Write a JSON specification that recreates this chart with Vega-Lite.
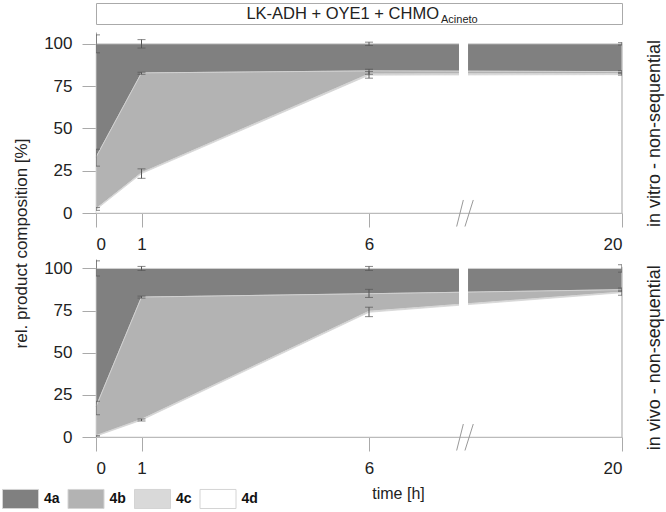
{
  "$schema": "https://vega.github.io/schema/vega-lite/v6.json",
  "padding": {"left": 2, "top": 2, "right": 2, "bottom": 2},
  "config": {
    "font": "Liberation Sans",
    "view": {"stroke": null},
    "axis": {"domainColor": "#aaaaaa", "tickColor": "#aaaaaa", "labelColor": "#222222", "titleColor": "#222222", "grid": false, "tickSize": 14, "labelFontSize": 17, "labelFontWeight": "normal", "titleFontWeight": "normal", "zindex": 1}
  },
  "datasets": {
    "comp": [
      {"condition": "in vitro", "time": 0, "compound": "4a", "value": 67},
      {"condition": "in vitro", "time": 0, "compound": "4b", "value": 30.5},
      {"condition": "in vitro", "time": 0, "compound": "4c", "value": 0.5},
      {"condition": "in vitro", "time": 0, "compound": "4d", "value": 2},
      {"condition": "in vitro", "time": 1, "compound": "4a", "value": 17.2},
      {"condition": "in vitro", "time": 1, "compound": "4b", "value": 59},
      {"condition": "in vitro", "time": 1, "compound": "4c", "value": 0.5},
      {"condition": "in vitro", "time": 1, "compound": "4d", "value": 23.3},
      {"condition": "in vitro", "time": 6, "compound": "4a", "value": 16},
      {"condition": "in vitro", "time": 6, "compound": "4b", "value": 1.8},
      {"condition": "in vitro", "time": 6, "compound": "4c", "value": 0.7},
      {"condition": "in vitro", "time": 6, "compound": "4d", "value": 81.5},
      {"condition": "in vitro", "time": 20, "compound": "4a", "value": 16.4},
      {"condition": "in vitro", "time": 20, "compound": "4b", "value": 1.2},
      {"condition": "in vitro", "time": 20, "compound": "4c", "value": 0.6},
      {"condition": "in vitro", "time": 20, "compound": "4d", "value": 81.8},
      {"condition": "in vivo", "time": 0, "compound": "4a", "value": 82},
      {"condition": "in vivo", "time": 0, "compound": "4b", "value": 17.2},
      {"condition": "in vivo", "time": 0, "compound": "4c", "value": 0.3},
      {"condition": "in vivo", "time": 0, "compound": "4d", "value": 0.5},
      {"condition": "in vivo", "time": 1, "compound": "4a", "value": 17},
      {"condition": "in vivo", "time": 1, "compound": "4b", "value": 72.5},
      {"condition": "in vivo", "time": 1, "compound": "4c", "value": 0.5},
      {"condition": "in vivo", "time": 1, "compound": "4d", "value": 10},
      {"condition": "in vivo", "time": 6, "compound": "4a", "value": 15},
      {"condition": "in vivo", "time": 6, "compound": "4b", "value": 10.4},
      {"condition": "in vivo", "time": 6, "compound": "4c", "value": 0.6},
      {"condition": "in vivo", "time": 6, "compound": "4d", "value": 74},
      {"condition": "in vivo", "time": 20, "compound": "4a", "value": 12.6},
      {"condition": "in vivo", "time": 20, "compound": "4b", "value": 1.4},
      {"condition": "in vivo", "time": 20, "compound": "4c", "value": 0.4},
      {"condition": "in vivo", "time": 20, "compound": "4d", "value": 85.6}
    ],
    "err": [
      {"condition": "in vitro", "time": 0, "pos": 100, "err": 5.3},
      {"condition": "in vitro", "time": 0, "pos": 32.7, "err": 5},
      {"condition": "in vitro", "time": 0, "pos": 2.4, "err": 0.8},
      {"condition": "in vitro", "time": 1, "pos": 100, "err": 2.5},
      {"condition": "in vitro", "time": 1, "pos": 82.6, "err": 0.6},
      {"condition": "in vitro", "time": 1, "pos": 23.3, "err": 2.8},
      {"condition": "in vitro", "time": 6, "pos": 100, "err": 1},
      {"condition": "in vitro", "time": 6, "pos": 83.5, "err": 1.5},
      {"condition": "in vitro", "time": 6, "pos": 81.7, "err": 2},
      {"condition": "in vitro", "time": 20, "pos": 100, "err": 0.7},
      {"condition": "in vitro", "time": 20, "pos": 83.6, "err": 0.5},
      {"condition": "in vitro", "time": 20, "pos": 82, "err": 0.5},
      {"condition": "in vivo", "time": 0, "pos": 100, "err": 4.5},
      {"condition": "in vivo", "time": 0, "pos": 17.2, "err": 4},
      {"condition": "in vivo", "time": 0, "pos": 0.4, "err": 0.4},
      {"condition": "in vivo", "time": 1, "pos": 100, "err": 1.2},
      {"condition": "in vivo", "time": 1, "pos": 83, "err": 0.6},
      {"condition": "in vivo", "time": 1, "pos": 10.1, "err": 0.6},
      {"condition": "in vivo", "time": 6, "pos": 100, "err": 1.2},
      {"condition": "in vivo", "time": 6, "pos": 85.2, "err": 2.4},
      {"condition": "in vivo", "time": 6, "pos": 74.2, "err": 2.8},
      {"condition": "in vivo", "time": 20, "pos": 100, "err": 2.2},
      {"condition": "in vivo", "time": 20, "pos": 87.4, "err": 1},
      {"condition": "in vivo", "time": 20, "pos": 85.6, "err": 1.5}
    ]
  },
  "spacing": 8,
  "bounds": "flush",
  "vconcat": [
    {
      "width": 526,
      "height": 21,
      "view": {"stroke": "#aaaaaa", "strokeWidth": 1},
      "data": {"values": [{"t": "LK-ADH + OYE1 + CHMO", "s": "Acineto"}]},
      "layer": [
        {"mark": {"type": "text", "align": "right", "baseline": "middle", "dx": 80, "fontSize": 16.5, "color": "#222222"}, "encoding": {"text": {"field": "t"}}},
        {"mark": {"type": "text", "align": "left", "baseline": "middle", "dx": 82, "dy": 6, "fontSize": 11, "color": "#222222"}, "encoding": {"text": {"field": "s"}}}
      ]
    },
    {
      "spacing": 46,
      "bounds": "flush",
      "vconcat": [
        {
          "width": 526,
          "height": 181,
          "layer": [
            {
              "data": {"name": "comp"},
              "transform": [{"filter": "datum.condition === 'in vitro'"}],
              "mark": {"type": "area", "stroke": "#d4d4d4", "strokeWidth": 0.8, "opacity": 1},
              "encoding": {
                "x": {"field": "time", "type": "quantitative", "scale": {"domain": [0, 6, 20], "range": [0, 273, 526], "nice": false, "zero": false}, "axis": {"values": [0, 1, 6, 20], "title": null, "labelPadding": 9}},
                "y": {"field": "value", "type": "quantitative", "stack": "zero", "title": "rel. product composition [%]", "scale": {"domain": [0, 107], "nice": false}, "axis": {"values": [0, 25, 50, 75, 100], "labelPadding": 10, "title": "rel. product composition [%]", "titleFontSize": 17, "titleX": -66, "titleY": 211, "titleBaseline": "bottom"}},
                "fill": {"field": "compound", "type": "nominal", "scale": {"domain": ["4a", "4b", "4c", "4d"], "range": ["#808080", "#b3b3b3", "#d9d9d9", "#ffffff"]},
                  "legend": {"orient": "none", "legendX": -94, "legendY": 477, "direction": "horizontal", "title": null, "symbolType": "M-1,-0.53H1V0.53H-1Z", "symbolSize": 1296, "symbolStrokeColor": "#888888", "symbolStrokeWidth": 1, "symbolOpacity": 1, "labelFontSize": 14, "labelFontWeight": "bold", "labelColor": "#111111", "labelOffset": 5, "columnPadding": 5.5}},
                "order": {"field": "compound", "sort": "descending"}
              }
            },
            {
              "data": {"values": [{}]},
              "mark": {"type": "rect", "fill": "white"},
              "encoding": {"x": {"datum": 10.98}, "x2": {"datum": 11.48}, "y": {"datum": 1}, "y2": {"datum": 101}}
            },
            {
              "data": {"values": [{}]},
              "mark": {"type": "rule", "color": "#b5b5b5"},
              "encoding": {"x": {"datum": 20}, "y": {"datum": 0}, "y2": {"datum": 101}}
            },
            {
              "data": {"name": "err"},
              "transform": [{"filter": "datum.condition === 'in vitro'"}],
              "mark": {"type": "errorbar", "ticks": {"size": 8, "color": "#555555"}, "rule": {"color": "#555555"}, "clip": true},
              "encoding": {"x": {"field": "time", "type": "quantitative"}, "y": {"field": "pos", "type": "quantitative", "title": "rel. product composition [%]"}, "yError": {"field": "err"}}
            },
            {
              "data": {"values": [{}]},
              "mark": {"type": "rule", "color": "#999999", "clip": false},
              "encoding": {"x": {"datum": 10.85}, "x2": {"datum": 11.22}, "y": {"datum": -8}, "y2": {"datum": 7.7}}
            },
            {
              "data": {"values": [{}]},
              "mark": {"type": "rule", "color": "#999999", "clip": false},
              "encoding": {"x": {"datum": 11.31}, "x2": {"datum": 11.77}, "y": {"datum": -8}, "y2": {"datum": 7.7}}
            },
            {
              "data": {"values": [{"label": "in vitro - non-sequential"}]},
              "mark": {"type": "text", "angle": 270, "align": "center", "baseline": "middle", "dy": 33, "fontSize": 18, "color": "#222222", "clip": false},
              "encoding": {"x": {"datum": 20}, "y": {"datum": 47}, "text": {"field": "label"}}
            }
          ]
        },
        {
          "width": 526,
          "height": 178,
          "layer": [
            {
              "data": {"name": "comp"},
              "transform": [{"filter": "datum.condition === 'in vivo'"}],
              "mark": {"type": "area", "stroke": "#d4d4d4", "strokeWidth": 0.8, "opacity": 1},
              "encoding": {
                "x": {"field": "time", "type": "quantitative", "scale": {"domain": [0, 6, 20], "range": [0, 273, 526], "nice": false, "zero": false}, "axis": {"values": [0, 1, 6, 20], "title": "time [h]", "titleFontSize": 16, "titleX": 302, "titleY": 48, "titleBaseline": "top", "labelPadding": 9}},
                "y": {"field": "value", "type": "quantitative", "stack": "zero", "scale": {"domain": [0, 105.6], "nice": false}, "axis": {"values": [0, 25, 50, 75, 100], "labelPadding": 10, "title": null}},
                "fill": {"field": "compound", "type": "nominal", "scale": {"domain": ["4a", "4b", "4c", "4d"], "range": ["#808080", "#b3b3b3", "#d9d9d9", "#ffffff"]}},
                "order": {"field": "compound", "sort": "descending"}
              }
            },
            {
              "data": {"values": [{}]},
              "mark": {"type": "rect", "fill": "white"},
              "encoding": {"x": {"datum": 10.98}, "x2": {"datum": 11.48}, "y": {"datum": 1}, "y2": {"datum": 101}}
            },
            {
              "data": {"values": [{}]},
              "mark": {"type": "rule", "color": "#b5b5b5"},
              "encoding": {"x": {"datum": 20}, "y": {"datum": 0}, "y2": {"datum": 101}}
            },
            {
              "data": {"name": "err"},
              "transform": [{"filter": "datum.condition === 'in vivo'"}],
              "mark": {"type": "errorbar", "ticks": {"size": 8, "color": "#555555"}, "rule": {"color": "#555555"}, "clip": true},
              "encoding": {"x": {"field": "time", "type": "quantitative"}, "y": {"field": "pos", "type": "quantitative"}, "yError": {"field": "err"}}
            },
            {
              "data": {"values": [{}]},
              "mark": {"type": "rule", "color": "#999999", "clip": false},
              "encoding": {"x": {"datum": 10.85}, "x2": {"datum": 11.22}, "y": {"datum": -8}, "y2": {"datum": 7.7}}
            },
            {
              "data": {"values": [{}]},
              "mark": {"type": "rule", "color": "#999999", "clip": false},
              "encoding": {"x": {"datum": 11.31}, "x2": {"datum": 11.77}, "y": {"datum": -8}, "y2": {"datum": 7.7}}
            },
            {
              "data": {"values": [{"label": "in vivo - non-sequential"}]},
              "mark": {"type": "text", "angle": 270, "align": "center", "baseline": "middle", "dy": 33, "fontSize": 18, "color": "#222222", "clip": false},
              "encoding": {"x": {"datum": 20}, "y": {"datum": 47}, "text": {"field": "label"}}
            }
          ]
        }
      ]
    }
  ]
}
